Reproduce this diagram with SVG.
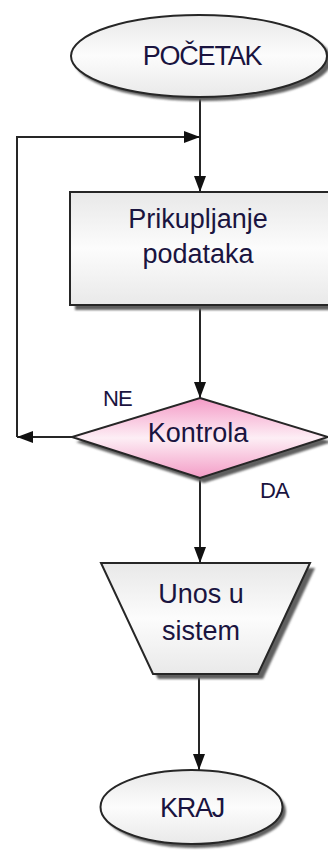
<svg xmlns="http://www.w3.org/2000/svg" width="328" height="850" viewBox="0 0 328 850">
  <style>
    .shape { stroke: #262626; stroke-width: 2; }
    .shadow { fill: #5e5e5e; filter: url(#blur); }
    .conn { fill: none; stroke: #262626; stroke-width: 2; }
    .label { font-family: "Liberation Sans", Arial, sans-serif; font-size: 27px; fill: #1a1440; text-anchor: middle; }
    .caps { letter-spacing: -1.2px; }
    .edge { font-family: "Liberation Sans", Arial, sans-serif; font-size: 22px; fill: #1a1440; letter-spacing: -1px; }
  </style>
  <defs>
    <linearGradient id="gray" x1="0" y1="0" x2="0" y2="1">
      <stop offset="0" stop-color="#e8e8e8"/>
      <stop offset="0.5" stop-color="#fcfcfc"/>
      <stop offset="1" stop-color="#e9e9e9"/>
    </linearGradient>
    <linearGradient id="pink" x1="0" y1="0" x2="0" y2="1">
      <stop offset="0" stop-color="#f49ac6"/>
      <stop offset="0.5" stop-color="#fdeef5"/>
      <stop offset="1" stop-color="#f39cc6"/>
    </linearGradient>
    <filter id="blur" x="-10%" y="-10%" width="120%" height="120%">
      <feGaussianBlur stdDeviation="1"/>
    </filter>
    <marker id="arrow" viewBox="0 0 16 12" refX="16" refY="6" markerWidth="16" markerHeight="12" markerUnits="userSpaceOnUse" orient="auto">
      <path d="M0,0 L16,6 L0,12 Z" fill="#111"/>
    </marker>
  </defs>

  <g id="connectors">
    <path class="conn" d="M200,97 V192" marker-end="url(#arrow)"/>
    <path class="conn" d="M200,305 V398" marker-end="url(#arrow)"/>
    <path class="conn" d="M72,437 H17" marker-end="url(#arrow)"/>
    <path class="conn" d="M17,437 V137 H200" marker-end="url(#arrow)"/>
    <path class="conn" d="M200,478 V563" marker-end="url(#arrow)"/>
    <path class="conn" d="M199,674 V770" marker-end="url(#arrow)"/>
  </g>

  <g id="start">
    <ellipse class="shadow" cx="203" cy="60" rx="129" ry="41"/>
    <ellipse class="shape" cx="199" cy="56" rx="128" ry="41" fill="url(#gray)"/>
    <text class="label caps" x="202" y="65">POČETAK</text>
  </g>

  <g id="collect">
    <rect class="shadow" x="75" y="197" width="262" height="113"/>
    <rect class="shape" x="70" y="192" width="262" height="113" fill="url(#gray)"/>
    <text class="label" x="198" y="228">Prikupljanje</text>
    <text class="label" x="198" y="263">podataka</text>
  </g>

  <g id="check">
    <polygon class="shadow" points="204,403 332,442 204,483 76,442"/>
    <polygon class="shape" points="200,398 328,437 200,478 72,437" fill="url(#pink)"/>
    <text class="label" x="198" y="442">Kontrola</text>
  </g>

  <text class="edge" x="103" y="406">NE</text>
  <text class="edge" x="260" y="498">DA</text>

  <g id="input">
    <polygon class="shadow" points="106,568 315,568 263,679 158,679"/>
    <polygon class="shape" points="101,563 310,563 258,674 153,674" fill="url(#gray)"/>
    <text class="label" x="201" y="603">Unos u</text>
    <text class="label" x="201" y="640">sistem</text>
  </g>

  <g id="end">
    <ellipse class="shadow" cx="195" cy="811" rx="91" ry="37"/>
    <ellipse class="shape" cx="191.5" cy="807" rx="91" ry="37" fill="url(#gray)"/>
    <text class="label caps" x="192" y="817">KRAJ</text>
  </g>
</svg>
